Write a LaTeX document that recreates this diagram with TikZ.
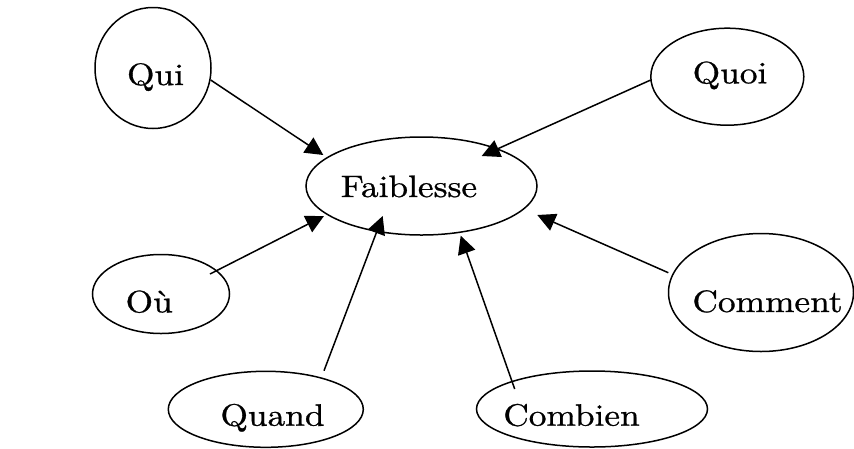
\documentclass[tikz,border=0pt]{standalone}
\usepackage{fontspec}
\setmainfont{lmroman10-regular}[Extension=.otf,FakeBold=0.8]
\usetikzlibrary{arrows.meta,shapes.geometric,calc}
\newcommand\hwide[1]{\scalebox{1.14}[1]{#1}}
\begin{document}
\begin{tikzpicture}[x=1pt,y=-1pt,
  bub/.style={draw, ellipse, line width=1.5pt, inner sep=0pt},
  lbl/.style={anchor=base, inner sep=0pt, font=\fontsize{31}{36}\selectfont},
  arr/.style={line width=1.5pt, -{Triangle[length=18pt,width=18pt]}}]
\useasboundingbox[fill=white] (0,0) rectangle (854,448);
% bubbles
\node[bub, minimum width=116pt, minimum height=121pt] (qui) at (153,68) {};
\node[bub, minimum width=231pt, minimum height=98pt] (faib) at (421.5,186) {};
\node[bub, minimum width=153pt, minimum height=97pt] (quoi) at (727.3,76.7) {};
\node[bub, minimum width=137pt, minimum height=79pt] (ou) at (161,294) {};
\node[bub, minimum width=195pt, minimum height=76pt] (quand) at (265.8,409.3) {};
\node[bub, minimum width=231pt, minimum height=76pt] (combien) at (592,409) {};
\node[bub, minimum width=185pt, minimum height=118pt] (comment) at (761,292.5) {};
% labels
\node[lbl] (quiT) at (155.5,85) {\hwide{Qui}};
\node[lbl] (faibT) at (409,197) {\hwide{Faiblesse}};
\node[lbl] (quoiT) at (730,83.3) {\hwide{Quoi}};
\node[lbl] (ouT) at (149.2,312.3) {\hwide{Où}};
\node[lbl] (quandT) at (272.5,425.7) {\hwide{Quand}};
\node[lbl] (combienT) at (571.5,425.7) {\hwide{Combien}};
\node[lbl] (commentT) at (767.5,312) {\hwide{Comment}};
% arrows
\draw[arr] ($(qui.center)+(57.7,12)$) -- ($(faib.center)+(-98.2,-31)$);
\draw[arr] ($(quoi.center)+(-76.6,3.3)$) -- ($(faib.center)+(60.2,-30)$);
\draw[arr] ($(ou.center)+(49,-20)$) -- ($(faib.center)+(-97.5,30)$);
\draw[arr] ($(quand.center)+(58.2,-38.6)$) -- ($(faib.center)+(-38.8,30)$);
\draw[arr] ($(combien.center)+(-77.3,-20)$) -- ($(faib.center)+(39.2,49.7)$);
\draw[arr] ($(comment.center)+(-92.7,-19.8)$) -- ($(faib.center)+(115.8,29)$);
\end{tikzpicture}
\end{document}
